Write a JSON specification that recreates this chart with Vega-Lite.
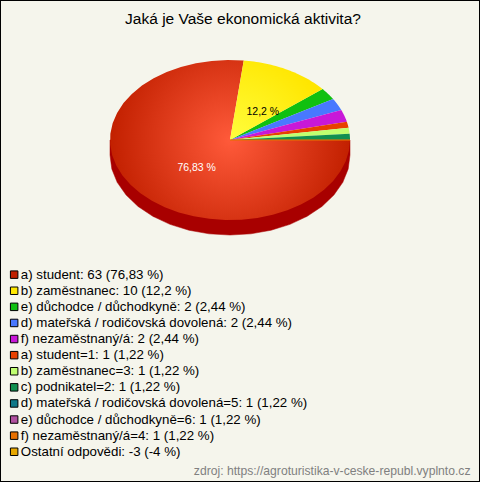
{"$schema":"https://vega.github.io/schema/vega-lite/v6.json","width":480,"height":482,"padding":0,"autosize":{"type":"none"},"background":"#f5f5ec","view":{"stroke":"#000000","strokeWidth":2,"fill":"#f5f5ec"},
"title":{"text":"Jaká je Vaše ekonomická aktivita?","font":"Liberation Sans","fontSize":15.5,"fontWeight":"normal","color":"#000000","anchor":"middle","offset":-27,"dx":3},
"projection":{"type":"identity","scale":120,"translate":[230,140]},
"data":{"values":[
{"ord":11,"name":"Ostatní odpovědi","val":-3,"label":"Ostatní odpovědi: -3 (-4 %)","pct":"-4 %"},
{"ord":0,"name":"a) student","val":63,"label":"a) student: 63 (76,83 %)","pct":"76,83 %"},
{"ord":1,"name":"b) zaměstnanec","val":10,"label":"b) zaměstnanec: 10 (12,2 %)","pct":"12,2 %"},
{"ord":2,"name":"e) důchodce / důchodkyně","val":2,"label":"e) důchodce / důchodkyně: 2 (2,44 %)","pct":"2,44 %"},
{"ord":3,"name":"d) mateřská / rodičovská dovolená","val":2,"label":"d) mateřská / rodičovská dovolená: 2 (2,44 %)","pct":"2,44 %"},
{"ord":4,"name":"f) nezaměstnaný/á","val":2,"label":"f) nezaměstnaný/á: 2 (2,44 %)","pct":"2,44 %"},
{"ord":5,"name":"a) student=1","val":1,"label":"a) student=1: 1 (1,22 %)","pct":"1,22 %"},
{"ord":6,"name":"b) zaměstnanec=3","val":1,"label":"b) zaměstnanec=3: 1 (1,22 %)","pct":"1,22 %"},
{"ord":7,"name":"c) podnikatel=2","val":1,"label":"c) podnikatel=2: 1 (1,22 %)","pct":"1,22 %"},
{"ord":8,"name":"d) mateřská / rodičovská dovolená=5","val":1,"label":"d) mateřská / rodičovská dovolená=5: 1 (1,22 %)","pct":"1,22 %"},
{"ord":9,"name":"e) důchodce / důchodkyně=6","val":1,"label":"e) důchodce / důchodkyně=6: 1 (1,22 %)","pct":"1,22 %"},
{"ord":10,"name":"f) nezaměstnaný/á=4","val":1,"label":"f) nezaměstnaný/á=4: 1 (1,22 %)","pct":"1,22 %"}
]},
"transform":[
{"window":[{"op":"sum","field":"val","as":"cum"}],"sort":[{"field":"ord","order":"ascending"}]},
{"calculate":"2*PI*min(datum.cum-datum.val,82)/82","as":"a"},
{"calculate":"2*PI*min(datum.cum,82)/82","as":"e"},
{"calculate":"datum.e-datum.a","as":"d"},
{"calculate":"{type:'Feature',properties:{},geometry:{type:'Polygon',coordinates:[[[0,0],[cos(datum.a+datum.d*0/36),.667*sin(datum.a+datum.d*0/36)],[cos(datum.a+datum.d*1/36),.667*sin(datum.a+datum.d*1/36)],[cos(datum.a+datum.d*2/36),.667*sin(datum.a+datum.d*2/36)],[cos(datum.a+datum.d*3/36),.667*sin(datum.a+datum.d*3/36)],[cos(datum.a+datum.d*4/36),.667*sin(datum.a+datum.d*4/36)],[cos(datum.a+datum.d*5/36),.667*sin(datum.a+datum.d*5/36)],[cos(datum.a+datum.d*6/36),.667*sin(datum.a+datum.d*6/36)],[cos(datum.a+datum.d*7/36),.667*sin(datum.a+datum.d*7/36)],[cos(datum.a+datum.d*8/36),.667*sin(datum.a+datum.d*8/36)],[cos(datum.a+datum.d*9/36),.667*sin(datum.a+datum.d*9/36)],[cos(datum.a+datum.d*10/36),.667*sin(datum.a+datum.d*10/36)],[cos(datum.a+datum.d*11/36),.667*sin(datum.a+datum.d*11/36)],[cos(datum.a+datum.d*12/36),.667*sin(datum.a+datum.d*12/36)],[cos(datum.a+datum.d*13/36),.667*sin(datum.a+datum.d*13/36)],[cos(datum.a+datum.d*14/36),.667*sin(datum.a+datum.d*14/36)],[cos(datum.a+datum.d*15/36),.667*sin(datum.a+datum.d*15/36)],[cos(datum.a+datum.d*16/36),.667*sin(datum.a+datum.d*16/36)],[cos(datum.a+datum.d*17/36),.667*sin(datum.a+datum.d*17/36)],[cos(datum.a+datum.d*18/36),.667*sin(datum.a+datum.d*18/36)],[cos(datum.a+datum.d*19/36),.667*sin(datum.a+datum.d*19/36)],[cos(datum.a+datum.d*20/36),.667*sin(datum.a+datum.d*20/36)],[cos(datum.a+datum.d*21/36),.667*sin(datum.a+datum.d*21/36)],[cos(datum.a+datum.d*22/36),.667*sin(datum.a+datum.d*22/36)],[cos(datum.a+datum.d*23/36),.667*sin(datum.a+datum.d*23/36)],[cos(datum.a+datum.d*24/36),.667*sin(datum.a+datum.d*24/36)],[cos(datum.a+datum.d*25/36),.667*sin(datum.a+datum.d*25/36)],[cos(datum.a+datum.d*26/36),.667*sin(datum.a+datum.d*26/36)],[cos(datum.a+datum.d*27/36),.667*sin(datum.a+datum.d*27/36)],[cos(datum.a+datum.d*28/36),.667*sin(datum.a+datum.d*28/36)],[cos(datum.a+datum.d*29/36),.667*sin(datum.a+datum.d*29/36)],[cos(datum.a+datum.d*30/36),.667*sin(datum.a+datum.d*30/36)],[cos(datum.a+datum.d*31/36),.667*sin(datum.a+datum.d*31/36)],[cos(datum.a+datum.d*32/36),.667*sin(datum.a+datum.d*32/36)],[cos(datum.a+datum.d*33/36),.667*sin(datum.a+datum.d*33/36)],[cos(datum.a+datum.d*34/36),.667*sin(datum.a+datum.d*34/36)],[cos(datum.a+datum.d*35/36),.667*sin(datum.a+datum.d*35/36)],[cos(datum.a+datum.d),.667*sin(datum.a+datum.d)],[0,0]]]}}","as":"geo"},
{"calculate":"0.45*cos(datum.a+datum.d/2)","as":"lon"},
{"calculate":"0.3*sin(datum.a+datum.d/2)","as":"lat"}
],
"layer":[
{"data":{"values":[{"part":"bok"}]},"transform":[{"calculate":"{type:'Feature',properties:{},geometry:{type:'Polygon',coordinates:[[[1,0],[1,.125],[.985,.241],[.94,.353],[.866,.458],[.766,.554],[.643,.636],[.5,.703],[.342,.752],[.174,.782],[0,.792],[-.174,.782],[-.342,.752],[-.5,.703],[-.643,.636],[-.766,.554],[-.866,.458],[-.94,.353],[-.985,.241],[-1,.125],[-1,0],[1,0]]]}}","as":"geo"}],"mark":{"type":"geoshape","fill":"#a80000","stroke":"#a80000","strokeWidth":0.5},"encoding":{"shape":{"field":"geo","type":"geojson"}}},
{"transform":[{"filter":"datum.ord>1"}],"mark":{"type":"geoshape","stroke":null},"encoding":{"shape":{"field":"geo","type":"geojson"},"fill":{"field":"label","type":"nominal","scale":{"domain":["a) student: 63 (76,83 %)","b) zaměstnanec: 10 (12,2 %)","e) důchodce / důchodkyně: 2 (2,44 %)","d) mateřská / rodičovská dovolená: 2 (2,44 %)","f) nezaměstnaný/á: 2 (2,44 %)","a) student=1: 1 (1,22 %)","b) zaměstnanec=3: 1 (1,22 %)","c) podnikatel=2: 1 (1,22 %)","d) mateřská / rodičovská dovolená=5: 1 (1,22 %)","e) důchodce / důchodkyně=6: 1 (1,22 %)","f) nezaměstnaný/á=4: 1 (1,22 %)","Ostatní odpovědi: -3 (-4 %)"],"range":["#c02000","#ffe800","#10c010","#4878ff","#c818d8","#e84000","#c0ff70","#109050","#107888","#b050a0","#e87000","#e8a800"]},"legend":{"orient":"none","legendX":7.5,"legendY":268,"title":null,"symbolType":"square","symbolSize":56,"symbolStrokeColor":"#000000","symbolStrokeWidth":1,"labelFont":"Liberation Sans","labelFontSize":13.3,"labelColor":"#000000","labelLimit":480,"rowPadding":2.1,"labelOffset":0,"symbolOpacity":1,"values":["a) student: 63 (76,83 %)","b) zaměstnanec: 10 (12,2 %)","e) důchodce / důchodkyně: 2 (2,44 %)","d) mateřská / rodičovská dovolená: 2 (2,44 %)","f) nezaměstnaný/á: 2 (2,44 %)","a) student=1: 1 (1,22 %)","b) zaměstnanec=3: 1 (1,22 %)","c) podnikatel=2: 1 (1,22 %)","d) mateřská / rodičovská dovolená=5: 1 (1,22 %)","e) důchodce / důchodkyně=6: 1 (1,22 %)","f) nezaměstnaný/á=4: 1 (1,22 %)","Ostatní odpovědi: -3 (-4 %)"]}}}},
{"transform":[{"filter":"datum.ord==0"}],"mark":{"type":"geoshape","stroke":null,"fill":{"gradient":"radial","x1":0.5,"y1":0.5,"x2":0.5,"y2":0.5,"r1":0,"r2":0.5,"stops":[{"offset":0,"color":"#ff5a3a"},{"offset":1,"color":"#c22000"}]}},"encoding":{"shape":{"field":"geo","type":"geojson"}}},
{"transform":[{"filter":"datum.ord==1"}],"mark":{"type":"geoshape","stroke":null,"fill":{"gradient":"radial","x1":0,"y1":1,"x2":0,"y2":1,"r1":0,"r2":1.1,"stops":[{"offset":0,"color":"#ffff40"},{"offset":1,"color":"#ffe600"}]}},"encoding":{"shape":{"field":"geo","type":"geojson"}}},
{"transform":[{"filter":"datum.ord==10"}],"mark":{"type":"geoshape","fill":"#e87000","stroke":"#e87000","strokeWidth":0.7},"encoding":{"shape":{"field":"geo","type":"geojson"}}},
{"transform":[{"filter":"datum.ord<=1"}],"mark":{"type":"text","font":"Liberation Sans","fontSize":10.5,"dx":7,"dy":4},"encoding":{"longitude":{"field":"lon","type":"quantitative"},"latitude":{"field":"lat","type":"quantitative"},"text":{"field":"pct","type":"nominal"},"color":{"condition":{"test":"datum.ord==0","value":"#ffffff"},"value":"#000000"}}},
{"data":{"values":[{"v":0}]},"transform":[],"mark":{"type":"text","text":"","opacity":0},"encoding":{"x":{"field":"v","type":"quantitative","axis":{"title":"zdroj: https://agroturistika-v-ceske-republ.vyplnto.cz","orient":"bottom","offset":-18,"domain":false,"ticks":false,"labels":false,"grid":false,"titleAnchor":"end","titleFont":"Liberation Sans","titleFontSize":12.15,"titleFontWeight":"normal","titleColor":"#808080","titlePadding":0,"titleX":470}}}}
]}
